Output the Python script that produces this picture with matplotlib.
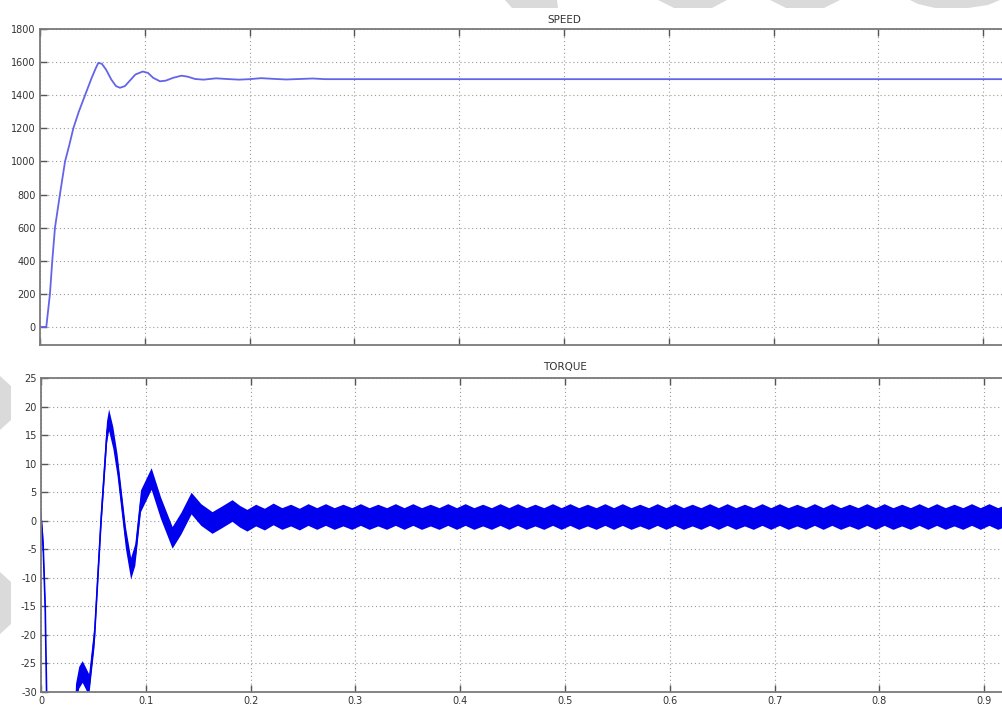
import numpy as np
import matplotlib
matplotlib.use("Agg")
import matplotlib.pyplot as plt
from matplotlib.patches import Polygon

plt.rcParams['axes.unicode_minus'] = False
plt.rcParams['font.family'] = ['DejaVu Sans']

# ---------------- data ----------------
speed_t = [0.0, 0.006, 0.0095, 0.0117, 0.0143, 0.019, 0.0239, 0.028, 0.0318, 0.037,
           0.043, 0.049, 0.053, 0.0556, 0.059, 0.063, 0.068, 0.0725, 0.0763, 0.081,
           0.086, 0.091, 0.098, 0.103, 0.108, 0.1145, 0.12, 0.127, 0.135, 0.141,
           0.148, 0.156, 0.168, 0.178, 0.19, 0.2, 0.211, 0.222, 0.235, 0.248,
           0.26, 0.272, 0.29, 1.0]
speed_v = [0, 0, 200, 400, 600, 800, 1000, 1100, 1200, 1300,
           1400, 1500, 1560, 1595, 1590, 1555, 1495, 1455, 1445, 1455,
           1490, 1525, 1543, 1535, 1505, 1484, 1488, 1505, 1518, 1512,
           1498, 1494, 1502, 1498, 1494, 1497, 1503, 1499, 1495, 1498,
           1501, 1497, 1497, 1497]

torque_t = [0.0, 0.002, 0.004, 0.0055, 0.009, 0.03, 0.0334, 0.0365, 0.0398, 0.0439,
            0.046, 0.051, 0.054, 0.0573, 0.063, 0.065, 0.069, 0.073, 0.081, 0.086,
            0.090, 0.0954, 0.1056, 0.1145, 0.1256, 0.134, 0.1437, 0.153, 0.1637, 0.173,
            0.1828, 0.19]
torque_v = [0.5, -4, -15, -32, -48, -48, -30.5, -27.5, -26.5, -28.0,
            -28.8, -20.4, -10.6, 0.0, 15.5, 17.6, 14.5, 9.8, -3.0, -8.4,
            -6.0, 3.4, 7.3, 2.2, -3.0, -0.5, 3.0, 1.0, -0.4, 0.6,
            1.7, 0.7]

# steady-state ripple: alternating trough / peak values every half ripple period
ss_start = 0.197
ss_half_period = 0.00833
ss_values = [0.0, 0.9, 0.2, 1.1, 0.3, 0.9, 0.2, 1.0, 0.3, 1.0,
             0.3, 0.9, 0.3, 1.0, 0.3, 0.9, 0.3, 1.0, 0.3, 1.0,
             0.3, 0.9, 0.3, 1.0, 0.3, 1.0, 0.3, 0.9, 0.3, 1.0,
             0.3, 1.0, 0.3, 0.9, 0.3, 1.0, 0.3, 1.0, 0.3, 0.9,
             0.3, 1.0, 0.3, 1.0, 0.3, 0.9, 0.3, 1.0, 0.3, 1.0,
             0.3, 0.9, 0.3, 1.0, 0.3, 1.0, 0.3, 0.9, 0.3, 1.0,
             0.3, 1.0, 0.3, 0.9, 0.3, 1.0, 0.3, 1.0, 0.3, 0.9,
             0.3, 1.0, 0.3, 1.0, 0.3, 0.9, 0.3, 1.0, 0.3, 1.0,
             0.3, 0.9, 0.3, 1.0, 0.3, 1.0, 0.3, 0.9, 0.3, 1.0,
             0.3, 1.0, 0.3, 0.9, 0.3, 1.0, 0.3]
torque_band_half = 1.9

speed_yticks = [0, 200, 400, 600, 800, 1000, 1200, 1400, 1600, 1800]
torque_yticks = [-30, -25, -20, -15, -10, -5, 0, 5, 10, 15, 20, 25]
x_ticks = [0, 0.1, 0.2, 0.3, 0.4, 0.5, 0.6, 0.7, 0.8, 0.9, 1.0]
x_ticklabels = ['0', '0.1', '0.2', '0.3', '0.4', '0.5', '0.6', '0.7', '0.8', '0.9', '']

# ---------------- figure ----------------
W, H = 1002, 709
fig = plt.figure(figsize=(W / 100, H / 100), dpi=100)
fig.patch.set_facecolor('white')

def px_rect(l, t, r, b):
    return [l / W, 1 - b / H, (r - l) / W, (b - t) / H]

# watermark-like grey shapes
wm = '#dadada'
shapes = [
    [(505, 0), (557, 0), (558, 8), (512, 8)],
    [(658, 0), (727, 0), (712, 8), (674, 8)],
    [(770, 0), (840, 0), (824, 8), (786, 8)],
    [(910, 0), (1000, 0), (988, 5), (968, 8), (935, 8), (918, 4)],
    [(0, 376), (11, 386), (11, 420), (0, 430)],
    [(0, 572), (11, 582), (11, 624), (0, 634)],
]
for s in shapes:
    fig.patches.append(Polygon([(x / W, 1 - y / H) for x, y in s], closed=True,
                               transform=fig.transFigure, facecolor=wm,
                               edgecolor='none', zorder=0))

ax1 = fig.add_axes(px_rect(40, 29, 40 + 1048, 345))
ax2 = fig.add_axes(px_rect(41, 378, 41 + 1048, 692))

spine_col = '#7a7a7a'
for ax in (ax1, ax2):
    ax.set_facecolor('white')
    for sp in ax.spines.values():
        sp.set_color(spine_col)
        sp.set_linewidth(1.3)
    ax.grid(True, color='#9a9a9a', linestyle=(0, (1, 2.5)), linewidth=0.8)
    ax.set_axisbelow(True)
    ax.tick_params(direction='in', length=5, width=1.0, color='#555555',
                   top=True, right=True, labelsize=7, labelcolor='#333333', pad=3)
    ax.set_xlim(0, 1.0)
    ax.set_xticks(x_ticks)

# speed
ax1.plot(speed_t, speed_v, color='#6464e8', linewidth=1.3)
ax1.set_ylim(-109, 1800)
ax1.set_yticks(speed_yticks)
ax1.set_yticklabels([str(v) for v in speed_yticks])
ax1.set_xticklabels([])
ax1.set_title('SPEED', fontsize=7.5, color='#333333', pad=4.5)

# torque
ss_t = ss_start + ss_half_period * np.arange(len(ss_values))
t_all = np.concatenate([torque_t, ss_t])
v_all = np.concatenate([torque_v, ss_values])
blue = '#0000ee'
ax2.fill_between(t_all, v_all - torque_band_half, v_all + torque_band_half,
                 color=blue, linewidth=0)
ax2.plot(t_all, v_all, color=blue, linewidth=1.2)
ax2.set_ylim(-30, 25)
ax2.set_yticks(torque_yticks)
ax2.set_yticklabels([str(v) for v in torque_yticks])
ax2.set_xticklabels(x_ticklabels)
ax2.set_title('TORQUE', fontsize=7.5, color='#333333', pad=6)

fig.savefig('out.png', dpi=100, facecolor='white')
